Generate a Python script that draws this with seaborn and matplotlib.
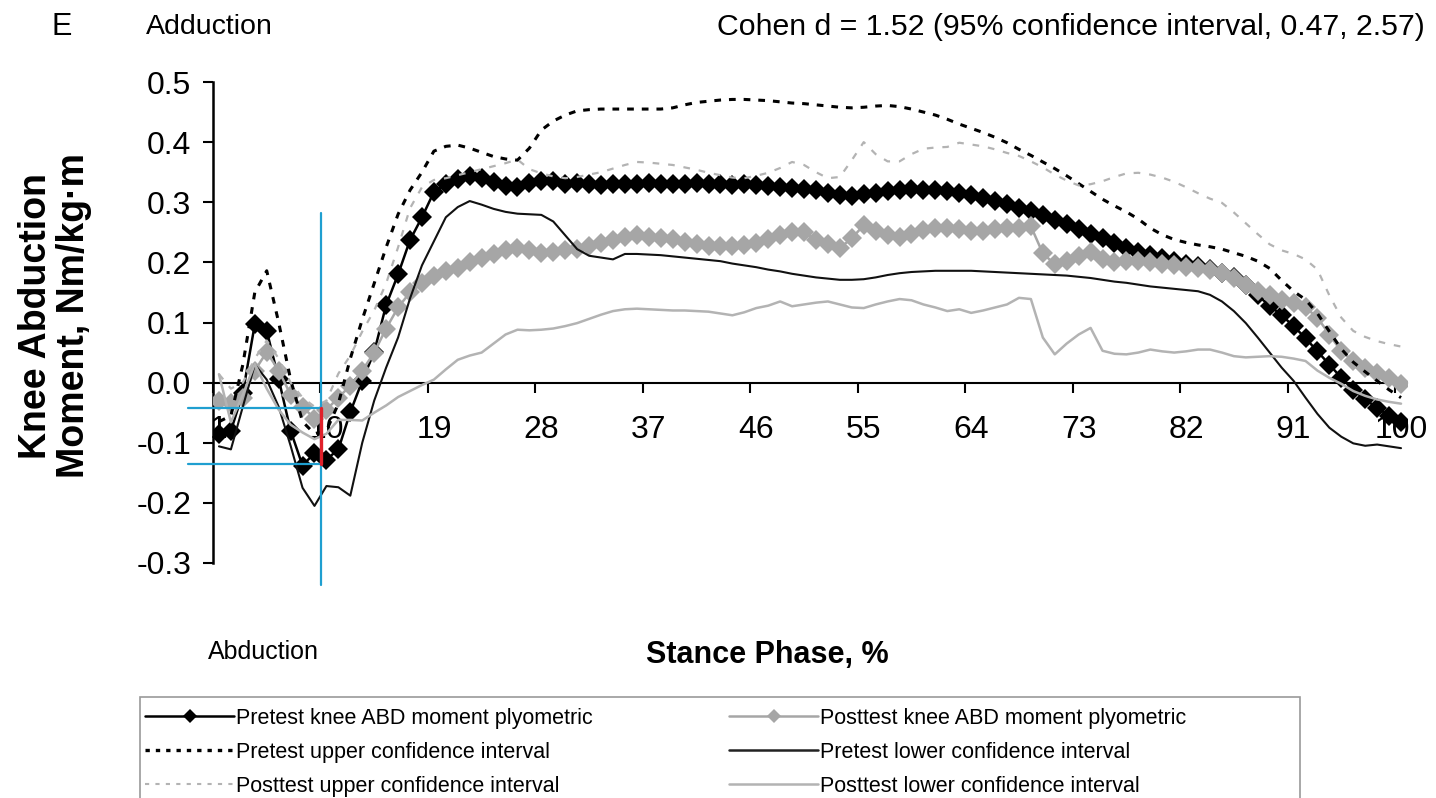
import matplotlib
matplotlib.use("Agg")
import matplotlib.pyplot as plt
import seaborn as sns
import pandas as pd
from matplotlib.lines import Line2D
from matplotlib.patches import Rectangle

sns.set_style("white")
plt.rcParams['font.family'] = ['Liberation Sans', 'DejaVu Sans']
plt.rcParams['text.color'] = 'black'
plt.rcParams['axes.labelcolor'] = 'black'
plt.rcParams['xtick.color'] = 'black'
plt.rcParams['ytick.color'] = 'black'

# ---------------- data ----------------
stance = list(range(1, 101))
tick_labels = [1, 10, 19, 28, 37, 46, 55, 64, 73, 82, 91, 100]
y_ticks = [-0.3, -0.2, -0.1, 0.0, 0.1, 0.2, 0.3, 0.4, 0.5]

pre_mean = [-0.086, -0.080, -0.017, 0.097, 0.086, 0.006, -0.080, -0.138, -0.117, -0.128,
            -0.111, -0.049, 0.003, 0.051, 0.129, 0.180, 0.237, 0.275, 0.317, 0.330,
            0.338, 0.343, 0.340, 0.333, 0.327, 0.325, 0.332, 0.336, 0.335, 0.330,
            0.332, 0.330, 0.328, 0.330, 0.331, 0.330, 0.332, 0.330, 0.331, 0.330,
            0.332, 0.330, 0.331, 0.329, 0.330, 0.328, 0.327, 0.325, 0.324, 0.322,
            0.320, 0.316, 0.312, 0.311, 0.313, 0.316, 0.318, 0.320, 0.322, 0.321,
            0.320, 0.318, 0.315, 0.312, 0.307, 0.302, 0.297, 0.291, 0.285, 0.278,
            0.271, 0.263, 0.255, 0.247, 0.240, 0.232, 0.224, 0.218, 0.213, 0.208,
            0.203, 0.198, 0.194, 0.189, 0.183, 0.175, 0.162, 0.145, 0.128, 0.112,
            0.094, 0.074, 0.052, 0.030, 0.008, -0.012, -0.028, -0.042, -0.055, -0.066]

post_mean = [-0.031, -0.034, -0.025, 0.020, 0.051, 0.020, -0.020, -0.040, -0.060, -0.045,
             -0.025, -0.005, 0.020, 0.050, 0.090, 0.125, 0.150, 0.165, 0.178, 0.185,
             0.191, 0.200, 0.207, 0.214, 0.220, 0.224, 0.220, 0.216, 0.218, 0.221,
             0.223, 0.228, 0.232, 0.237, 0.242, 0.245, 0.243, 0.241, 0.239, 0.234,
             0.230, 0.227, 0.227, 0.228, 0.229, 0.233, 0.239, 0.245, 0.251, 0.250,
             0.238, 0.230, 0.224, 0.240, 0.262, 0.252, 0.245, 0.243, 0.248, 0.254,
             0.258, 0.258, 0.255, 0.253, 0.252, 0.255, 0.257, 0.258, 0.260, 0.215,
             0.197, 0.203, 0.210, 0.218, 0.205, 0.200, 0.202, 0.202, 0.200, 0.197,
             0.195, 0.193, 0.190, 0.187, 0.182, 0.174, 0.163, 0.153, 0.145, 0.138,
             0.132, 0.125, 0.108, 0.080, 0.052, 0.036, 0.025, 0.016, 0.008, -0.002]

pre_upper = [-0.065, -0.055, 0.030, 0.150, 0.186, 0.100, 0.005, -0.065, -0.085, -0.080,
             -0.035, 0.040, 0.105, 0.165, 0.225, 0.280, 0.320, 0.350, 0.385, 0.393,
             0.395, 0.390, 0.383, 0.376, 0.372, 0.370, 0.390, 0.420, 0.435, 0.445,
             0.452, 0.454, 0.455, 0.455, 0.455, 0.455, 0.455, 0.455, 0.457, 0.462,
             0.466, 0.468, 0.470, 0.471, 0.471, 0.470, 0.469, 0.467, 0.465, 0.464,
             0.462, 0.460, 0.458, 0.457, 0.458, 0.460, 0.461, 0.459, 0.455, 0.450,
             0.445, 0.438, 0.430, 0.423, 0.416, 0.408, 0.399, 0.388, 0.378, 0.367,
             0.356, 0.344, 0.331, 0.318, 0.305, 0.294, 0.284, 0.272, 0.257, 0.246,
             0.238, 0.233, 0.229, 0.226, 0.222, 0.216, 0.210, 0.202, 0.190, 0.170,
             0.152, 0.138, 0.115, 0.085, 0.056, 0.034, 0.018, 0.003, -0.012, -0.025]

pre_lower = [-0.106, -0.111, -0.040, 0.030, 0.005, -0.040, -0.105, -0.175, -0.205, -0.172,
             -0.174, -0.188, -0.100, -0.030, 0.025, 0.075, 0.140, 0.195, 0.235, 0.275,
             0.292, 0.302, 0.296, 0.289, 0.284, 0.281, 0.280, 0.279, 0.268, 0.245,
             0.222, 0.211, 0.208, 0.205, 0.214, 0.214, 0.213, 0.212, 0.210, 0.208,
             0.206, 0.204, 0.202, 0.198, 0.195, 0.192, 0.188, 0.185, 0.181, 0.178,
             0.175, 0.173, 0.171, 0.171, 0.172, 0.175, 0.179, 0.182, 0.184, 0.185,
             0.186, 0.186, 0.186, 0.186, 0.185, 0.184, 0.183, 0.182, 0.181, 0.180,
             0.179, 0.178, 0.176, 0.174, 0.171, 0.168, 0.166, 0.163, 0.160, 0.158,
             0.156, 0.154, 0.152, 0.146, 0.135, 0.119, 0.099, 0.075, 0.050, 0.025,
             0.003, -0.025, -0.052, -0.075, -0.090, -0.101, -0.105, -0.103, -0.106, -0.109]

post_upper = [0.014, -0.010, 0.000, 0.040, 0.070, 0.040, 0.000, -0.025, -0.040, -0.030,
              0.015, 0.045, 0.085, 0.120, 0.165, 0.225, 0.290, 0.325, 0.337, 0.340,
              0.345, 0.350, 0.355, 0.360, 0.365, 0.371, 0.355, 0.348, 0.343, 0.340,
              0.342, 0.346, 0.350, 0.356, 0.362, 0.367, 0.366, 0.364, 0.362, 0.358,
              0.354, 0.349, 0.345, 0.341, 0.340, 0.344, 0.349, 0.357, 0.367, 0.362,
              0.350, 0.340, 0.342, 0.370, 0.400, 0.380, 0.368, 0.368, 0.380, 0.389,
              0.391, 0.392, 0.399, 0.396, 0.393, 0.388, 0.382, 0.377, 0.368, 0.358,
              0.346, 0.336, 0.328, 0.330, 0.335, 0.342, 0.348, 0.349, 0.346, 0.341,
              0.334, 0.325, 0.315, 0.306, 0.299, 0.283, 0.265, 0.247, 0.230, 0.220,
              0.214, 0.205, 0.188, 0.145, 0.108, 0.086, 0.076, 0.069, 0.064, 0.060]

post_lower = [0.014, -0.066, -0.020, 0.031, -0.010, -0.045, -0.070, -0.083, -0.094, -0.085,
              -0.062, -0.062, -0.063, -0.050, -0.038, -0.024, -0.014, -0.004, 0.005, 0.022,
              0.038, 0.045, 0.050, 0.065, 0.080, 0.088, 0.087, 0.088, 0.090, 0.094,
              0.099, 0.106, 0.113, 0.119, 0.122, 0.123, 0.122, 0.121, 0.120, 0.120,
              0.119, 0.118, 0.115, 0.112, 0.117, 0.124, 0.128, 0.135, 0.127, 0.130,
              0.133, 0.135, 0.130, 0.125, 0.124, 0.130, 0.135, 0.139, 0.137, 0.130,
              0.125, 0.119, 0.122, 0.116, 0.120, 0.125, 0.130, 0.141, 0.139, 0.075,
              0.047, 0.065, 0.080, 0.091, 0.053, 0.048, 0.047, 0.050, 0.055, 0.052,
              0.050, 0.052, 0.055, 0.055, 0.050, 0.044, 0.042, 0.043, 0.044, 0.043,
              0.040, 0.036, 0.020, 0.008, -0.002, -0.014, -0.022, -0.028, -0.032, -0.035]

series_labels = ["Pretest knee ABD moment plyometric", "Posttest knee ABD moment plyometric",
                 "Pretest upper confidence interval", "Pretest lower confidence interval",
                 "Posttest upper confidence interval", "Posttest lower confidence interval"]

# annotation guide (cyan cross-hair and red difference bar at stance 10)
guide_x = 9.55
guide_post = -0.043
guide_pre = -0.135
guide_top, guide_bottom = 0.282, -0.337
guide_left = -1.6

# ---------------- figure ----------------
W, H = 1436, 798
fig = plt.figure(figsize=(W / 100, H / 100), dpi=100)
ax = fig.add_axes([213 / W, 1 - 563 / H, (1407 - 213) / W, (563 - 82) / H])

BLACK = "#000000"
GREY = "#a6a6a6"
GREY_LINE = "#b3b3b3"
MS = 10.5

df = pd.DataFrame({"stance": stance, "pre_mean": pre_mean, "post_mean": post_mean,
                   "pre_upper": pre_upper, "pre_lower": pre_lower,
                   "post_upper": post_upper, "post_lower": post_lower})

common = dict(x="stance", ax=ax, estimator=None, errorbar=None, legend=False, sort=False)
sns.lineplot(data=df, y="pre_mean", color=BLACK, lw=1.8, marker="D", markersize=MS,
             markeredgewidth=0, zorder=3, **common)
sns.lineplot(data=df, y="post_mean", color=GREY, lw=1.8, marker="D", markersize=MS,
             markeredgewidth=0, zorder=4, **common)
sns.lineplot(data=df, y="pre_upper", color=BLACK, lw=2.2, linestyle=(0, (2.2, 2.6)),
             zorder=5, **common)
sns.lineplot(data=df, y="pre_lower", color="#111111", lw=1.5, zorder=5, **common)
sns.lineplot(data=df, y="post_upper", color=GREY_LINE, lw=1.6, linestyle=(0, (3, 4)),
             zorder=5, **common)
sns.lineplot(data=df, y="post_lower", color=GREY_LINE, lw=1.8, zorder=5, **common)

ax.set_xlim(0.5, 100.5)
ax.set_ylim(-0.3, 0.5)
ax.set_axisbelow(True)

for s in ["top", "right"]:
    ax.spines[s].set_visible(False)
ax.spines["left"].set_linewidth(1.8)
ax.spines["left"].set_color("black")
ax.spines["bottom"].set_position(("data", 0))
ax.spines["bottom"].set_linewidth(1.5)
ax.spines["bottom"].set_color("black")

ax.set_yticks(y_ticks)
ax.set_yticklabels([f"{v:.1f}" for v in y_ticks])
ax.tick_params(axis="y", which="major", direction="out", length=7.5, width=1.5,
               labelsize=23, pad=8, colors="black", left=True)
ax.set_xticks(tick_labels)
ax.set_xticklabels([str(v) for v in tick_labels])
ax.set_xticks([v - 0.5 for v in tick_labels], minor=True)
ax.tick_params(axis="x", which="major", length=0, labelsize=23, pad=23, colors="black")
ax.tick_params(axis="x", which="minor", direction="out", length=7.5, width=1.5,
               colors="black", bottom=True)
ax.set_xlabel("")
ax.set_ylabel("")
ax.grid(False)

# guides
ax.plot([guide_x, guide_x], [guide_bottom, guide_top], color="#1f9fd0", lw=1.6,
        clip_on=False, zorder=6)
ax.plot([guide_left, guide_x], [guide_post, guide_post], color="#1f9fd0", lw=1.6,
        clip_on=False, zorder=6)
ax.plot([guide_left, guide_x], [guide_pre, guide_pre], color="#1f9fd0", lw=1.6,
        clip_on=False, zorder=6)
ax.plot([guide_x, guide_x], [guide_pre, guide_post], color="#e0202a", lw=2.4,
        clip_on=False, zorder=7)

# texts
fig.text(52 / W, 1 - 27 / H, "E", fontsize=22, va="center", ha="left")
fig.text(146 / W, 1 - 27 / H, "Adduction", fontsize=20.5, va="center", ha="left")
fig.text(1425 / W, 1 - 27 / H, "Cohen d = 1.52 (95% confidence interval, 0.47, 2.57)",
         fontsize=21.8, va="center", ha="right")
fig.text(55 / W, 1 - 316 / H, "Knee Abduction\nMoment, Nm/kg\u00b7m", fontsize=27,
         fontweight="bold", rotation=90, va="center", ha="center", linespacing=1.08,
         multialignment="center")
fig.text(767 / W, 1 - 655 / H, "Stance Phase, %", fontsize=22, fontweight="bold",
         va="center", ha="center")
fig.text(208 / W, 1 - 652 / H, "Abduction", fontsize=18, va="center", ha="left")

# legend
h_pre = Line2D([], [], color=BLACK, lw=1.8, marker="D", markersize=7, markeredgewidth=0)
h_post = Line2D([], [], color=GREY, lw=1.8, marker="D", markersize=7, markeredgewidth=0)
h_pu = Line2D([], [], color=BLACK, lw=2.4, linestyle=(0, (1.3, 1.8)))
h_pl = Line2D([], [], color="#222222", lw=1.8)
h_qu = Line2D([], [], color=GREY_LINE, lw=1.5, linestyle=(0, (2, 3)))
h_ql = Line2D([], [], color=GREY_LINE, lw=1.8)
handles = [h_pre, h_pu, h_qu, h_post, h_pl, h_ql]
labels = [series_labels[0], series_labels[2], series_labels[4],
          series_labels[1], series_labels[3], series_labels[5]]
fig.legend(handles, labels, ncol=2, loc="upper left",
           bbox_to_anchor=(145 / W, 1 - 708 / H), frameon=False,
           prop={"family": ["Liberation Sans", "DejaVu Sans"], "size": 15.5},
           handlelength=4.15, handletextpad=0.1, columnspacing=6.3, labelspacing=0.6,
           numpoints=1, borderpad=0, borderaxespad=0)
fig.add_artist(Rectangle((140 / W, -0.05), 1160 / W, (798 - 697) / H + 0.05,
                         transform=fig.transFigure, fill=False, edgecolor="#9a9a9a",
                         lw=1.2, clip_on=False))

fig.savefig("out.png", dpi=100)
